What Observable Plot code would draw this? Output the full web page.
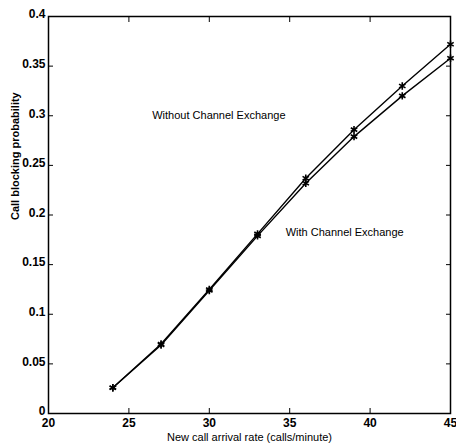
<!DOCTYPE html>
<html>
<head>
<meta charset="utf-8">
<script src="https://cdn.jsdelivr.net/npm/d3@7"></script>
<script src="https://cdn.jsdelivr.net/npm/@observablehq/plot@0.6"></script>
<style>
  html, body { margin: 0; padding: 0; background: #fff; }
  svg { display: block; }
</style>
</head>
<body>
<div id="chart"></div>
<script>
const arrivalRate = [24, 27, 30, 33, 36, 39, 42, 45];
const withoutExchange = [0.026, 0.070, 0.125, 0.181, 0.237, 0.286, 0.330, 0.372];
const withExchange    = [0.026, 0.069, 0.124, 0.179, 0.232, 0.279, 0.320, 0.358];
const xTicks = [20, 25, 30, 35, 40, 45];
const yTicks = [0, 0.05, 0.1, 0.15, 0.2, 0.25, 0.3, 0.35, 0.4];
const labelNames = ["Without Channel Exchange", "With Channel Exchange"];
const labelX = [26.45, 34.75];
const labelY = [0.300, 0.182];

const data = [];
arrivalRate.forEach((x, i) => {
  data.push({series: "without", x, y: withoutExchange[i]});
  data.push({series: "with", x, y: withExchange[i]});
});
const labels = labelNames.map((t, i) => ({text: t, x: labelX[i], y: labelY[i]}));

const chart = Plot.plot({
  width: 456,
  height: 446,
  marginLeft: 48,
  marginRight: 6,
  marginTop: 16,
  marginBottom: 33,
  style: {fontFamily: "'Liberation Sans', Arial, sans-serif", fontSize: "12px", color: "#000", background: "#fff"},
  x: {domain: [20, 45]},
  y: {domain: [0, 0.4]},
  marks: [
    Plot.frame({stroke: "#000", strokeWidth: 1.5}),
    Plot.axisX({ticks: xTicks, tickSize: -5, tickPadding: 10, tickFormat: d => String(d), label: null, fontSize: 12, fontWeight: "bold"}),
    Plot.axisX({anchor: "top", ticks: xTicks, tickSize: -5, tickFormat: () => "", label: null}),
    Plot.axisY({ticks: yTicks, tickSize: -5, tickFormat: () => "", label: null}),
    Plot.axisY({ticks: yTicks, tickSize: 0, tickPadding: 3, tickFormat: d => String(d), label: null, fontSize: 12, fontWeight: "bold", dy: -2}),
    Plot.axisY({anchor: "right", ticks: yTicks, tickSize: -5, tickFormat: () => "", label: null}),
    Plot.line(data, {x: "x", y: "y", z: "series", stroke: "#000", strokeWidth: 1.4}),
    Plot.dot(data, {x: "x", y: "y", symbol: "asterisk", r: 3.5, stroke: "#000", strokeWidth: 1.6}),
    Plot.text(labels, {x: "x", y: "y", text: "text", textAnchor: "start", fontSize: 11, fill: "#000"}),
    Plot.text(["New call arrival rate (calls/minute)"], {frameAnchor: "bottom", dy: 27, fontSize: 11, fill: "#000"}),
    Plot.text(["Call blocking probability"], {frameAnchor: "left", dx: -33, dy: 5, rotate: -90, fontSize: 11, fontWeight: "bold", fill: "#000"})
  ]
});
document.getElementById("chart").appendChild(chart);
</script>
</body>
</html>
